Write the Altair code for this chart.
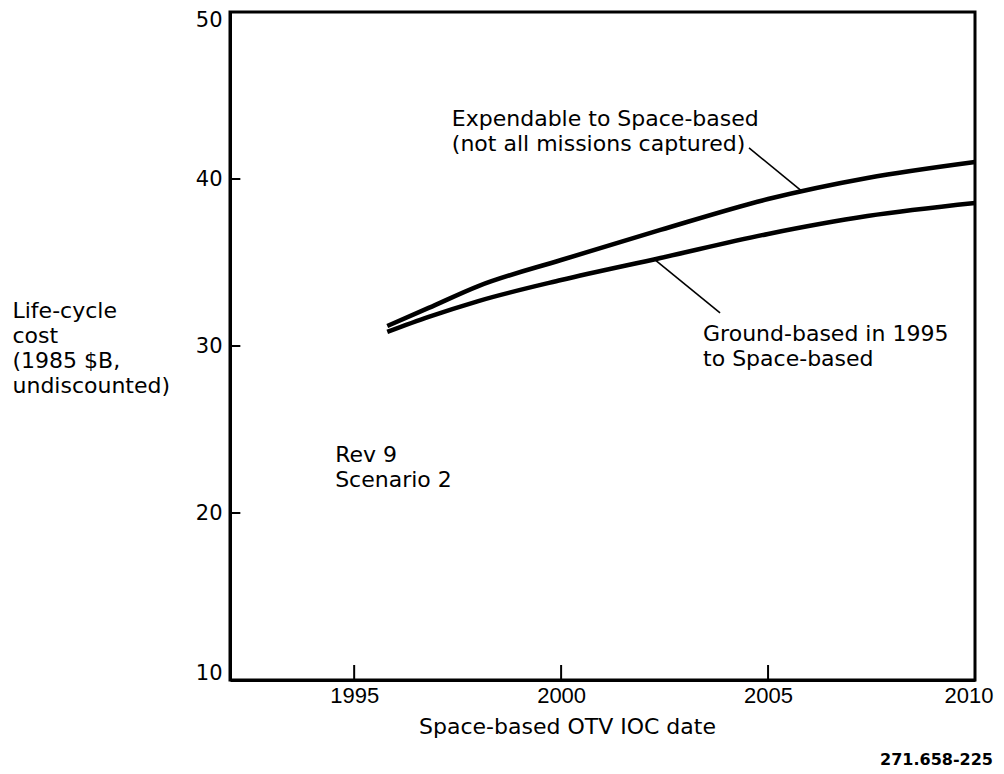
import altair as alt
import pandas as pd

# ---- data ----
years = [1995.8, 1996.8, 1998, 2000, 2002.4, 2005, 2007.4, 2010]
cost_expendable = [31.2, 32.28, 33.59, 35.15, 36.95, 38.8, 40.06, 41.02]
cost_ground = [30.84, 31.74, 32.69, 33.95, 35.27, 36.71, 37.78, 38.56]
series_names = ["Expendable to Space-based", "Ground-based in 1995 to Space-based"]

x_tick_values = [1995, 2000, 2005, 2010]
y_tick_values = [10, 20, 30, 40, 50]
x_inner_ticks = [1995, 2000, 2005]
y_inner_ticks = [20, 30, 40]

# annotation text (data coordinates)
ann_text = ["Expendable to Space-based", "(not all missions captured)",
            "Ground-based in 1995", "to Space-based",
            "Rev 9", "Scenario 2"]
ann_x = [1997.36, 1997.36, 2003.43, 2003.43, 1994.54, 1994.54]
ann_y = [43.59, 42.1, 30.72, 29.22, 23.47, 21.98]

# leader lines
lead_x = [2004.54, 2002.27]
lead_y = [41.86, 35.15]
lead_x2 = [2005.8, 2003.84]
lead_y2 = [39.3, 31.98]

FONT = "DejaVu Sans"
NUMFONT = "Liberation Sans"

rows = []
for yr, c in zip(years, cost_expendable):
    rows.append({"year": yr, "cost": c, "series": series_names[0]})
for yr, c in zip(years, cost_ground):
    rows.append({"year": yr, "cost": c, "series": series_names[1]})
df = pd.DataFrame(rows)

xscale = alt.Scale(domain=[1992, 2010], nice=False, zero=False)
yscale = alt.Scale(domain=[10, 50], nice=False, zero=False)

xaxis = alt.Axis(values=x_tick_values, format="d", ticks=False, grid=False,
                 labelFontSize=22, labelFont=NUMFONT, labelColor="black",
                 labelPadding=5, domainColor="black", domainWidth=3,
                 labelFlush=1, labelFlushOffset=18,
                 title="Space-based OTV IOC date", titleFont=FONT,
                 titleFontSize=22, titleFontWeight="normal", titleColor="black",
                 titleX=337, titleY=36, titleAlign="center")
yaxis = alt.Axis(values=y_tick_values, ticks=False, grid=False,
                 labelFontSize=21, labelFont=FONT, labelColor="black",
                 labelPadding=8, domainColor="black", domainWidth=3,
                 labelFlush=1, labelFlushOffset=3,
                 title=["Life-cycle", "cost", "(1985 $B,", "undiscounted)"],
                 titleFont=FONT, titleFontSize=22, titleFontWeight="normal",
                 titleColor="black", titleAngle=0, titleAlign="left",
                 titleBaseline="top", titleX=-218, titleY=288,
                 titleLineHeight=25)

lines = alt.Chart(df).mark_line(color="black", strokeWidth=4.5,
                                interpolate="monotone").encode(
    x=alt.X("year:Q", scale=xscale, axis=xaxis),
    y=alt.Y("cost:Q", scale=yscale, axis=yaxis),
    detail="series:N",
)

xt = pd.DataFrame({"x": x_inner_ticks, "y": [10] * 3, "y2": [10.9] * 3})
xticks = alt.Chart(xt).mark_rule(color="black", strokeWidth=2).encode(
    x=alt.X("x:Q", scale=xscale), y=alt.Y("y:Q", scale=yscale), y2="y2:Q")

yt = pd.DataFrame({"y": y_inner_ticks, "x": [1992] * 3, "x2": [1992.25] * 3})
yticks = alt.Chart(yt).mark_rule(color="black", strokeWidth=2).encode(
    y=alt.Y("y:Q", scale=yscale), x=alt.X("x:Q", scale=xscale), x2="x2:Q")

ld = pd.DataFrame({"x": lead_x, "y": lead_y, "x2": lead_x2, "y2": lead_y2})
leaders = alt.Chart(ld).mark_rule(color="black", strokeWidth=1.6).encode(
    x=alt.X("x:Q", scale=xscale), y=alt.Y("y:Q", scale=yscale),
    x2="x2:Q", y2="y2:Q")

ad = pd.DataFrame({"t": ann_text, "x": ann_x, "y": ann_y})
ann = alt.Chart(ad).mark_text(align="left", baseline="middle", fontSize=22,
                              font=FONT, color="black").encode(
    x=alt.X("x:Q", scale=xscale), y=alt.Y("y:Q", scale=yscale), text="t:N")

code = alt.Chart(pd.DataFrame({"t": ["271.658-225"]})).mark_text(
    align="right", baseline="middle", fontSize=16, fontWeight="bold",
    font=FONT, color="black").encode(
    x=alt.value(763), y=alt.value(748), text="t:N")

chart = alt.layer(lines, xticks, yticks, leaders, ann, code).properties(
    width=745, height=668,
    padding={"left": 222, "top": 4, "right": 21, "bottom": 92},
    autosize=alt.AutoSizeParams(type="none"),
    background="white",
).configure_view(stroke="black", strokeWidth=3)

chart.save("out.html", embed_options={"renderer": "svg", "actions": False})
